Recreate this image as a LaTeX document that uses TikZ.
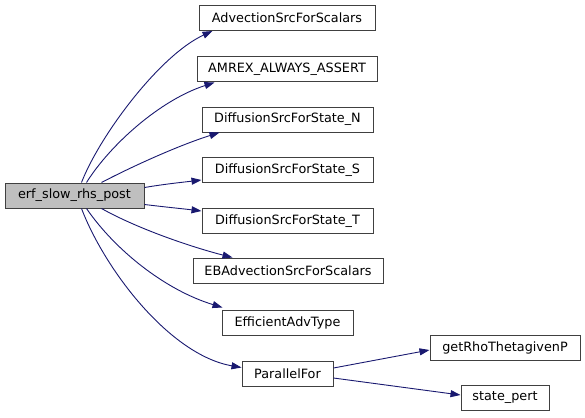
\documentclass[tikz,border=0pt]{standalone}
\usepackage{fontspec}
\setmainfont{DejaVu Sans}
\usepackage{xcolor}
\definecolor{edgeblue}  {HTML}{191970}
\definecolor{boxline}   {HTML}{404040}
\definecolor{rootfill}  {HTML}{BFBFBF}
\usetikzlibrary{arrows.meta, calc}

\begin{document}
\begin{tikzpicture}[x=1pt, y=-1pt,
    fn/.style={draw=boxline, line width=1pt, fill=white, inner sep=0pt,
        minimum height=25pt, font=\fontsize{12.8}{14}\selectfont},
    edge/.style={draw=edgeblue, line width=0.9pt,
        -{Triangle[length=10pt, width=7pt]}, fill=none}]
    \useasboundingbox (0,0) rectangle (585,417);
    % caller on the left, callees stacked in one column
    \node[fn, fill=rootfill, minimum width=139pt] (erf) at (74.5,195.5) {erf\_slow\_rhs\_post};
    \node[fn, minimum width=176pt] (adv)   at (287,18)    {AdvectionSrcForScalars};
    \node[fn, minimum width=180pt] (amrex) at (287,69.5)  {AMREX\_ALWAYS\_ASSERT};
    \node[fn, minimum width=171pt] (difN)  at (287.5,119.5) {DiffusionSrcForState\_N};
    \node[fn, minimum width=171pt] (difS)  at (287.5,170) {DiffusionSrcForState\_S};
    \node[fn, minimum width=171pt] (difT)  at (287.5,221) {DiffusionSrcForState\_T};
    \node[fn, minimum width=190pt] (ebadv) at (288,270.5) {EBAdvectionSrcForScalars};
    \node[fn, minimum width=131pt] (effadv) at (287.5,322.5) {EfficientAdvType};
    \node[fn, minimum width=91pt]  (pfor)  at (287.5,373.5) {ParallelFor};
    \node[fn, minimum width=150pt] (rho)   at (505,348)   {getRhoThetagivenP};
    \node[fn, minimum width=88pt]  (pert)  at (505,398)   {state\_pert};
    % calls from erf_slow_rhs_post
    \draw[edge] ($(erf.north west)+(77,0)$) .. controls (100,135) and (160,55) .. ($(adv.south west)+(14,0)$);
    \draw[edge] ($(erf.north west)+(82,0)$) .. controls (110,145) and (160,100) .. ($(amrex.south west)+(18,0)$);
    \draw[edge] ($(erf.north west)+(97,0)$) .. controls (135,165) and (180,145) .. ($(difN.south west)+(18,0)$);
    \draw[edge] ($(erf.east)+(0,-8)$) .. controls (165,184) and (185,182) .. ($(difS.west)+(0,10)$);
    \draw[edge] ($(erf.east)+(0,9)$) .. controls (165,207) and (185,209) .. ($(difT.west)+(0,-10)$);
    \draw[edge] ($(erf.south west)+(97,0)$) .. controls (140,230) and (195,248) .. ($(ebadv.north west)+(40,0)$);
    \draw[edge] ($(erf.south west)+(82,0)$) .. controls (115,250) and (165,290) .. ($(effadv.north west)+(1,-2)$);
    \draw[edge] ($(erf.south west)+(77,0)$) .. controls (105,270) and (170,355) .. ($(pfor.west)+(0,-6)$);
    % calls from ParallelFor
    \draw[edge] ($(pfor.east)+(0,-5.5)$) -- ($(rho.west)+(0,2)$);
    \draw[edge] ($(pfor.east)+(0,4.5)$) -- ($(pert.west)+(0,-3)$);
\end{tikzpicture}
\end{document}
